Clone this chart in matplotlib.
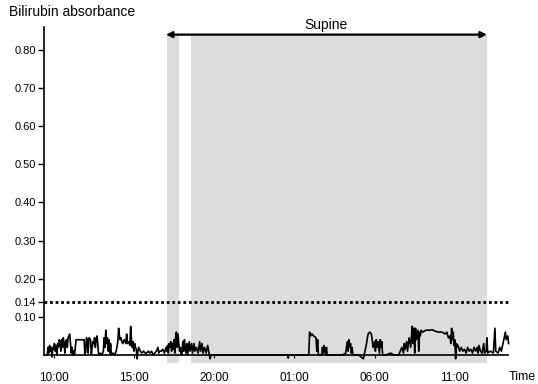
import matplotlib
matplotlib.use("Agg")
import matplotlib.pyplot as plt
import numpy as np

plt.rcParams['font.family'] = ['Liberation Sans', 'DejaVu Sans']

# hours after 10:00 on day 1
t = [-0.40, -0.35, -0.30, -0.25, -0.20, -0.15, -0.10, -0.05, 0.00, 0.05,
     0.10, 0.15, 0.20, 0.25, 0.30, 0.35, 0.40, 0.45, 0.50, 0.55,
     0.60, 0.65, 0.70, 0.75, 0.80, 0.85, 0.90, 0.95, 1.00, 1.05,
     1.10, 1.15, 1.20, 1.25, 1.30, 1.40, 1.50, 1.60, 1.70, 1.80,
     1.90, 1.95, 2.00, 2.05, 2.10, 2.15, 2.20, 2.30, 2.35, 2.40,
     2.45, 2.50, 2.55, 2.60, 2.65, 2.70, 2.75, 2.80, 2.90, 3.00,
     3.10, 3.15, 3.20, 3.25, 3.30, 3.35, 3.40, 3.45, 3.50, 3.55,
     3.60, 3.70, 3.80, 3.90, 4.00, 4.05, 4.10, 4.15, 4.20, 4.25,
     4.30, 4.40, 4.50, 4.55, 4.60, 4.70, 4.75, 4.80, 4.85, 4.90,
     4.95, 5.00, 5.05, 5.10, 5.15, 5.20, 5.25, 5.30, 5.40, 5.50,
     5.60, 5.70, 5.80, 5.90, 6.00, 6.10, 6.20, 6.30, 6.40, 6.50,
     6.55, 6.60, 6.70, 6.80, 6.90, 7.00, 7.05, 7.10, 7.15, 7.20,
     7.25, 7.30, 7.35, 7.40, 7.45, 7.50, 7.55, 7.60, 7.65, 7.70,
     7.75, 7.80, 7.85, 7.90, 7.95, 8.00, 8.05, 8.10, 8.15, 8.20,
     8.25, 8.30, 8.35, 8.45, 8.50, 8.60, 8.65, 8.75, 8.80, 8.90,
     9.00, 9.10, 9.15, 9.25, 9.30, 9.40, 9.50, 9.60, 9.70, 9.75,
     9.80, 12.0, 14.60, 14.62, 14.65, 15.90, 15.95, 16.00, 16.10, 16.20,
     16.35, 16.40, 16.45, 16.50, 16.70, 16.75, 16.80, 16.85, 16.95, 17.00,
     17.05, 18.00, 18.20, 18.30, 18.35, 18.40, 18.45, 18.50, 18.55, 18.60,
     18.65, 19.00, 19.30, 19.35, 19.40, 19.50, 19.55, 19.60, 19.70, 19.80,
     19.85, 19.90, 20.00, 20.05, 20.10, 20.15, 20.20, 20.30, 20.35, 20.40,
     20.45, 20.50, 20.70, 21.00, 21.20, 21.50, 21.60, 21.70, 21.80, 21.85,
     21.90, 22.00, 22.05, 22.15, 22.25, 22.30, 22.35, 22.40, 22.45, 22.50,
     22.55, 22.60, 22.70, 22.75, 22.80, 22.85, 22.90, 23.00, 23.20, 23.40,
     23.60, 23.80, 24.00, 24.20, 24.40, 24.50, 24.60, 24.70, 24.75, 24.80,
     24.85, 24.90, 24.95, 25.00, 25.05, 25.10, 25.15, 25.20, 25.30, 25.40,
     25.50, 25.60, 25.70, 25.80, 25.90, 26.00, 26.10, 26.20, 26.30, 26.40,
     26.45, 26.50, 26.60, 26.70, 26.80, 26.85, 26.95, 27.00, 27.05, 27.20,
     27.40, 27.50, 27.55, 27.70, 27.80, 27.90, 28.00, 28.10, 28.15, 28.20,
     28.30, 28.35]

absorb = [0.00, 0.02, 0.005, 0.025, 0.01, 0.02, -0.005, 0.02, 0.015, 0.03,
          0.01, 0.025, 0.00, 0.03, 0.02, 0.04, 0.035, 0.01, 0.04, 0.02,
          0.045, 0.03, 0.005, 0.035, 0.04, 0.02, 0.045, 0.05, 0.055, 0.03,
          0.005, 0.02, 0.00, 0.01, 0.00, 0.04, 0.04, 0.04, 0.04, 0.04,
          0.04, 0.00, 0.01, 0.045, 0.035, 0.005, 0.045, 0.04, 0.00, 0.02,
          0.035, 0.03, 0.045, 0.02, 0.04, 0.05, 0.03, 0.00, 0.005, 0.00,
          0.01, 0.045, 0.02, 0.065, 0.03, 0.045, 0.01, 0.04, 0.005, 0.03,
          0.00, 0.005, 0.00, 0.01, 0.035, 0.07, 0.05, 0.04, 0.045, 0.035,
          0.03, 0.04, 0.03, 0.055, 0.03, 0.035, 0.025, 0.075, 0.04, 0.02,
          0.035, 0.01, 0.03, 0.02, 0.015, -0.01, 0.01, 0.02, 0.01, 0.005,
          0.01, 0.005, 0.005, 0.01, 0.005, 0.01, 0.00, 0.005, 0.01, 0.02,
          0.005, 0.01, 0.01, 0.015, 0.005, 0.02, 0.01, 0.025, 0.005, 0.03,
          0.02, 0.035, 0.01, 0.03, 0.015, 0.04, 0.005, 0.045, 0.06, 0.02,
          0.055, 0.03, 0.01, 0.02, 0.00, 0.005, 0.035, 0.01, 0.04, 0.015,
          0.005, 0.03, 0.00, 0.035, 0.01, 0.03, 0.005, 0.03, 0.01, 0.02,
          0.005, 0.035, 0.01, 0.03, 0.005, 0.02, 0.005, 0.025, 0.00, -0.01,
          0.00, 0.00, 0.00, -0.008, 0.00, 0.00, 0.06, 0.05, 0.055, 0.05,
          0.045, 0.01, 0.04, 0.00, 0.00, 0.02, 0.005, 0.025, 0.00, 0.02,
          0.00, 0.00, 0.005, 0.035, 0.01, 0.04, 0.02, 0.03, 0.005, 0.02,
          0.00, 0.00, -0.01, 0.00, 0.01, 0.03, 0.045, 0.055, 0.06, 0.055,
          0.04, 0.02, 0.035, 0.01, 0.04, 0.02, 0.035, 0.005, 0.04, 0.02,
          0.035, 0.00, 0.00, 0.005, 0.00, 0.00, 0.01, 0.02, 0.005, 0.03,
          0.015, 0.035, 0.01, 0.045, 0.02, 0.05, 0.075, 0.03, 0.07, 0.005,
          0.07, 0.04, 0.065, 0.01, 0.06, 0.05, 0.065, 0.06, 0.065, 0.065,
          0.066, 0.062, 0.06, 0.06, 0.055, 0.06, 0.045, 0.05, 0.03, 0.07,
          0.04, 0.06, 0.025, 0.04, -0.01, 0.03, 0.02, 0.025, 0.01, 0.02,
          0.01, 0.015, 0.005, 0.02, 0.01, 0.015, 0.005, 0.02, 0.01, 0.02,
          0.005, 0.025, 0.01, 0.005, 0.03, 0.005, 0.01, 0.045, 0.005, 0.01,
          0.005, 0.07, 0.01, 0.005, 0.02, 0.01, 0.03, 0.05, 0.06, 0.04,
          0.05, 0.03]

tick_pos = [0, 5, 10, 15, 20, 25]
tick_labels = ['10:00', '15:00', '20:00', '01:00', '06:00', '11:00']
ytick_vals = [0.10, 0.14, 0.20, 0.30, 0.40, 0.50, 0.60, 0.70, 0.80]

# shaded periods (hours after 10:00)
bands = [(7.07, 7.83), (8.57, 27.0)]
supine = (7.0, 27.0)
threshold = 0.14

fig = plt.figure(figsize=(5.38, 3.84), dpi=100)
ax = fig.add_axes([0.0818, 0.0547, 0.868, 0.875])
ax.set_xlim(-0.6, 28.5)
ax.set_ylim(-0.021, 0.86)

for a, b in bands:
    ax.fill_between([a, b], -0.021, 0.84, color='#dcdcdc', lw=0, zorder=0)

ax.plot(t, absorb, color='black', lw=1.2, zorder=3)
ax.plot([-0.6, 28.3], [threshold, threshold], color='black', lw=2.0,
        linestyle=(0, (1, 1)), zorder=3)

ax.annotate('', xy=(supine[0], 0.84), xytext=(supine[1], 0.84),
            arrowprops=dict(arrowstyle='<|-|>', color='black', lw=1.6,
                            mutation_scale=9, shrinkA=0, shrinkB=0))
ax.text(sum(supine) / 2, 0.866, 'Supine', ha='center', va='center', fontsize=10)

for s in ['top', 'right']:
    ax.spines[s].set_visible(False)
ax.spines['left'].set_bounds(0, 0.86)
ax.spines['left'].set_linewidth(1.2)
ax.spines['bottom'].set_position(('data', 0))
ax.spines['bottom'].set_bounds(-0.6, 28.3)
ax.spines['bottom'].set_linewidth(1.2)

ax.set_yticks(ytick_vals)
ax.set_yticklabels(['%.2f' % v for v in ytick_vals])
ax.tick_params(axis='y', length=4, width=1, labelsize=8, pad=2)
ax.set_xticks(tick_pos)
ax.set_xticklabels(tick_labels)
ax.tick_params(axis='x', length=2, width=0.8, labelsize=8.5, pad=10)

fig.text(9 / 538, 1 - 12 / 384, 'Bilirubin absorbance', fontsize=10, va='center')
fig.text(509 / 538, 1 - 377 / 384, 'Time', fontsize=9, va='center')

fig.savefig('out.png', dpi=100)
